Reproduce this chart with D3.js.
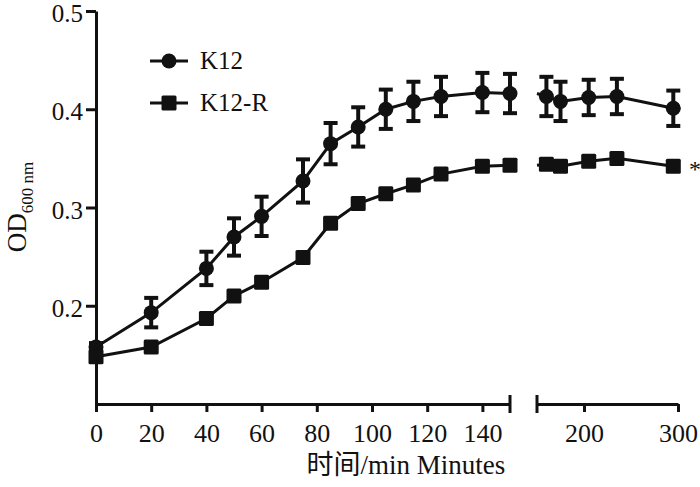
<!DOCTYPE html>
<html>
<head>
<meta charset="utf-8">
<script src="https://cdn.jsdelivr.net/npm/d3@7"></script>
<style>
  body { margin: 0; background: #fff; }
  text { font-family: "Liberation Serif", "Times New Roman", "Noto Sans CJK SC", serif; fill: #111; }
</style>
</head>
<body>
<div id="canvas"></div>
<script>
"use strict"

/* Data */
let times = [0, 20, 40, 50, 60, 75, 85, 95, 105, 115, 125, 140, 150, 160, 175, 205, 235, 295];
let k12 = [0.158, 0.193, 0.238, 0.270, 0.291, 0.327, 0.365, 0.382, 0.400, 0.408, 0.413, 0.417, 0.416, 0.413, 0.408, 0.412, 0.413, 0.401];
let k12Err = [0.004, 0.015, 0.017, 0.019, 0.020, 0.022, 0.021, 0.020, 0.020, 0.020, 0.020, 0.020, 0.020, 0.020, 0.020, 0.018, 0.018, 0.018];
let k12r = [0.148, 0.158, 0.187, 0.210, 0.224, 0.249, 0.284, 0.304, 0.314, 0.323, 0.334, 0.342, 0.343, 0.344, 0.342, 0.347, 0.350, 0.342];
let xTicks1 = [0, 20, 40, 60, 80, 100, 120, 140];
let xTicks2 = [200, 300];
let yTicks = [0.2, 0.3, 0.4, 0.5];
let seriesNames = ["K12", "K12-R"];

/* Drawing configuration */
let svgWidth = 700;
let svgHeight = 487;
let ink = "#111";

let svg = d3.select("#canvas")
    .append("svg")
    .attr("width", svgWidth)
    .attr("height", svgHeight);

/* Two x segments with a break between them */
let xScale1 = d3.scaleLinear().domain([0, 150]).range([96, 510]);
let xScale2 = d3.scaleLinear().domain([150, 300]).range([537, 678]);
let yScale = d3.scaleLinear().domain([0.1, 0.5]).range([404, 11]);

function xPos(t) {
    return t <= 150 ? xScale1(t) : xScale2(t);
}

/* Axes */
let yAxis = svg.append("g")
    .attr("transform", "translate(96,0)")
    .call(d3.axisLeft(yScale).tickValues(yTicks).tickFormat(d3.format(".1f")).tickSize(10).tickSizeOuter(0).tickPadding(3));

let xAxis1 = svg.append("g")
    .attr("transform", "translate(0,404)")
    .call(d3.axisBottom(xScale1).tickValues(xTicks1).tickSize(8).tickSizeOuter(0).tickPadding(12));

let xAxis2 = svg.append("g")
    .attr("transform", "translate(0,404)")
    .call(d3.axisBottom(xScale2).tickValues(xTicks2).tickSize(8).tickSizeOuter(0).tickPadding(12));

[yAxis, xAxis1, xAxis2].forEach(function (g) {
    g.select(".domain").attr("stroke", ink).attr("stroke-width", 3);
    g.selectAll(".tick line").attr("stroke", ink).attr("stroke-width", 3);
    g.selectAll(".tick text")
        .attr("fill", ink)
        .style("font-size", "26px")
        .style("font-family", "'Liberation Serif', serif");
});
yAxis.selectAll(".tick text").attr("dy", "0.42em").style("font-size", "25px");

/* End caps at the axis break */
svg.append("line")
    .attr("x1", xScale1(150)).attr("x2", xScale1(150))
    .attr("y1", 395).attr("y2", 413)
    .attr("stroke", ink).attr("stroke-width", 3);
svg.append("line")
    .attr("x1", xScale2(150)).attr("x2", xScale2(150))
    .attr("y1", 395).attr("y2", 413)
    .attr("stroke", ink).attr("stroke-width", 3);

/* Build point lists */
let pointsK12 = times.map(function (t, i) { return { t: t, v: k12[i], e: k12Err[i] }; });
let pointsR = times.map(function (t, i) { return { t: t, v: k12r[i] }; });

let line1 = d3.line().x(function (d) { return xScale1(d.t); }).y(function (d) { return yScale(d.v); });
let line2 = d3.line().x(function (d) { return xScale2(d.t); }).y(function (d) { return yScale(d.v); });

/* Connecting lines per segment */
[pointsK12, pointsR].forEach(function (pts) {
    svg.append("path")
        .attr("d", line1(pts.filter(function (d) { return d.t <= 150; })))
        .attr("fill", "none").attr("stroke", ink).attr("stroke-width", 3);
    svg.append("path")
        .attr("d", line2(pts.filter(function (d) { return d.t >= 150; })))
        .attr("fill", "none").attr("stroke", ink).attr("stroke-width", 3);
});

/* Error bars for K12 */
let bars = svg.append("g");
pointsK12.forEach(function (d) {
    let x = xPos(d.t);
    let yTop = yScale(d.v + d.e);
    let yBot = yScale(d.v - d.e);
    bars.append("line")
        .attr("x1", x).attr("x2", x).attr("y1", yTop).attr("y2", yBot)
        .attr("stroke", ink).attr("stroke-width", 4);
    [yTop, yBot].forEach(function (y) {
        bars.append("line")
            .attr("x1", x - 7).attr("x2", x + 7).attr("y1", y).attr("y2", y)
            .attr("stroke", ink).attr("stroke-width", 4);
    });
});

/* Markers */
svg.selectAll("circle.k12")
    .data(pointsK12)
    .join("circle")
    .attr("class", "k12")
    .attr("cx", function (d) { return xPos(d.t); })
    .attr("cy", function (d) { return yScale(d.v); })
    .attr("r", 7.5)
    .attr("fill", ink);

svg.selectAll("rect.k12r")
    .data(pointsR)
    .join("rect")
    .attr("class", "k12r")
    .attr("x", function (d) { return xPos(d.t) - 7.5; })
    .attr("y", function (d) { return yScale(d.v) - 7.5; })
    .attr("width", 15)
    .attr("height", 15)
    .attr("rx", 1.5)
    .attr("fill", ink);

/* Significance mark */
svg.append("text")
    .attr("x", 689)
    .attr("y", yScale(k12r[k12r.length - 1]) + 11)
    .style("font-size", "24px")
    .text("*");

/* Legend */
let legendX = 150;
let legendY = [61, 103];
seriesNames.forEach(function (name, i) {
    svg.append("line")
        .attr("x1", legendX).attr("x2", legendX + 38)
        .attr("y1", legendY[i]).attr("y2", legendY[i])
        .attr("stroke", ink).attr("stroke-width", 3);
    if (i === 0) {
        svg.append("circle")
            .attr("cx", legendX + 19).attr("cy", legendY[i]).attr("r", 7.5)
            .attr("fill", ink);
    } else {
        svg.append("rect")
            .attr("x", legendX + 11.5).attr("y", legendY[i] - 7.5)
            .attr("width", 15).attr("height", 15).attr("rx", 1.5)
            .attr("fill", ink);
    }
    svg.append("text")
        .attr("x", legendX + 50)
        .attr("y", legendY[i] + 8)
        .style("font-size", "25px")
        .text(name);
});

/* Axis titles */
svg.append("text")
    .attr("x", 406)
    .attr("y", 474)
    .attr("text-anchor", "middle")
    .style("font-size", "27px")
    .text("时间/min Minutes");

let yTitle = svg.append("text")
    .attr("transform", "translate(26,207) rotate(-90)")
    .attr("text-anchor", "middle")
    .style("font-size", "27px");
yTitle.append("tspan").text("OD");
yTitle.append("tspan")
    .attr("dy", 7)
    .style("font-size", "17px")
    .text("600 nm");
</script>
</body>
</html>
